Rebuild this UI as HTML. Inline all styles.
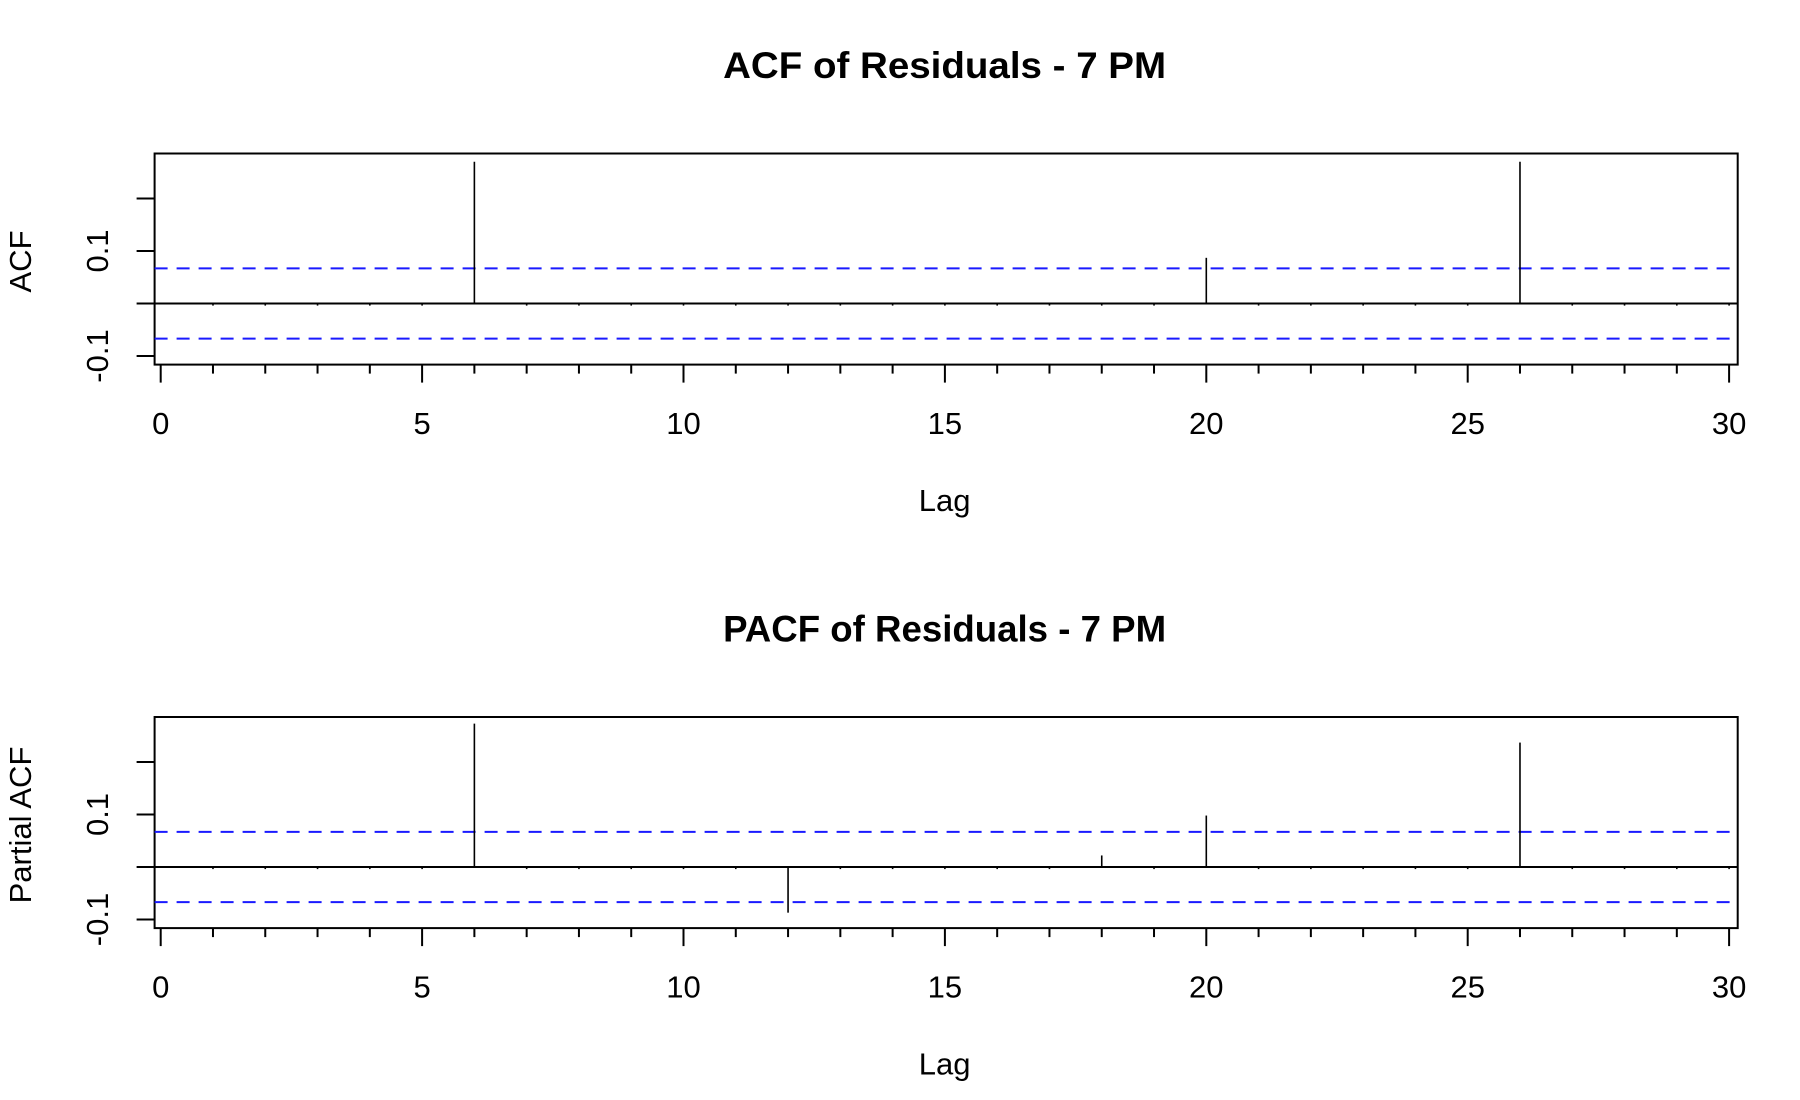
<!DOCTYPE html>
<html><head><meta charset="utf-8"><style>
html,body{margin:0;padding:0;background:#fff;}
svg{display:block;font-family:"Liberation Sans",Arial,sans-serif;}
</style></head><body>
<svg id="chart" width="1800" height="1100" viewBox="0 0 1800 1100" xmlns="http://www.w3.org/2000/svg"></svg>
<script>
const lags = [1,2,3,4,5,6,7,8,9,10,11,12,13,14,15,16,17,18,19,20,21,22,23,24,25,26,27,28,29,30];
const acfValues = [-0.004,-0.004,-0.004,-0.004,-0.004,0.27,-0.004,-0.004,-0.004,-0.004,-0.004,-0.004,-0.004,-0.004,-0.004,-0.004,-0.004,-0.004,-0.004,0.087,-0.004,-0.004,-0.004,-0.004,-0.004,0.27,-0.004,-0.004,-0.004,-0.004];
const pacfValues = [-0.004,-0.004,-0.004,-0.004,-0.004,0.273,-0.004,-0.004,-0.004,-0.004,-0.004,-0.087,-0.004,-0.004,-0.004,-0.004,-0.004,0.022,-0.004,0.098,-0.004,-0.004,-0.004,-0.004,-0.004,0.237,-0.004,-0.004,-0.004,-0.004];
const ciBound = [0.067];
const xTicks = [0,5,10,15,20,25,30];
const yTicks = [-0.1,0,0.1,0.2];
const yTickLabels = ["-0.1","","0.1",""];

const svg = document.getElementById('chart');
const NS = 'http://www.w3.org/2000/svg';
function mk(tag, attrs, parent){const e=document.createElementNS(NS,tag);for(const k in attrs)e.setAttribute(k,attrs[k]);(parent||svg).appendChild(e);return e;}

const L = 154.6, R = 1737.7;
const xs = v => 160.7 + v*52.28;
function panel(offset, values, title, ylab, key){
  const g = mk('g',{});
  
  
  const top = 153.5 + offset, bottom = 364.6 + offset;
  const zeroY = 303.5 + offset;
  const ys = v => zeroY - v*525;
  const t = mk('text',{x:944.6,y:78+offset,'text-anchor':'middle','font-size':37,'font-weight':'bold',textLength:443,lengthAdjust:'spacingAndGlyphs'},g);
  t.textContent = title;
  
  
  const fr = mk('rect',{x:L,y:top,width:R-L,height:bottom-top,fill:'none',stroke:'#000','stroke-width':2},g);
  
  
  const zl = mk('line',{x1:L,x2:R,y1:zeroY,y2:zeroY,stroke:'#000','stroke-width':2},g);
  
  
  [ciBound[0], -ciBound[0]].forEach((c,i)=>{
    const l = mk('line',{x1:L,x2:R,y1:ys(c),y2:ys(c),stroke:'#1a1aff','stroke-width':2,'stroke-dasharray':'13,9'},g);
    
    
  });
  lags.forEach((lag,i)=>{
    const b = mk('line',{x1:xs(lag),x2:xs(lag),y1:zeroY,y2:ys(values[i]),stroke:'#000','stroke-width':1.6},g);
    
    
  });
  for(let v=0; v<=30; v++){
    const major = xTicks.includes(v);
    const tk = mk('line',{x1:xs(v),x2:xs(v),y1:bottom,y2:bottom+(major?18:9),stroke:'#000','stroke-width':2},g);
    
    
  }
  xTicks.forEach(v=>{
    const tl = mk('text',{x:xs(v),y:434+offset,'text-anchor':'middle','font-size':31},g);
    tl.textContent = String(v);
    
    
  });
  yTicks.forEach((v,i)=>{
    const tk = mk('line',{x1:L-18,x2:L,y1:ys(v),y2:ys(v),stroke:'#000','stroke-width':2},g);
    
    
    if(yTickLabels[i]){
      const tl = mk('text',{x:0,y:0,'text-anchor':'middle','font-size':31,transform:`translate(108,${ys(v)}) rotate(-90)`},g);
      tl.textContent = yTickLabels[i];
      
      
    }
  });
  const yl = mk('text',{x:0,y:0,'text-anchor':'middle','font-size':31,transform:`translate(31,${zeroY-42}) rotate(-90)`},g);
  yl.textContent = ylab;
  
  
  const xl = mk('text',{x:944.6,y:511+offset,'text-anchor':'middle','font-size':31},g);
  xl.textContent = 'Lag';
  
  
}
panel(0, acfValues, 'ACF of Residuals - 7 PM', 'ACF', 'acf');
panel(563.5, pacfValues, 'PACF of Residuals - 7 PM', 'Partial ACF', 'pacf');
</script>
</body></html>
